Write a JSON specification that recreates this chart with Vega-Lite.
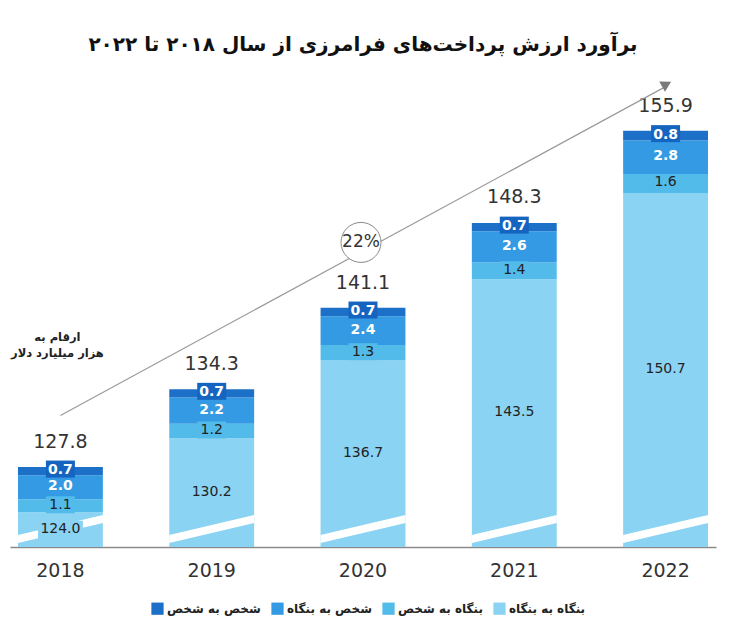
{
  "$schema": "https://vega.github.io/schema/vega-lite/v6.json",
  "autosize": {"type": "none"},
  "padding": {"left": 10, "top": 75, "right": 18, "bottom": 93},
  "width": 706,
  "height": 472,
  "background": "white",
  "title": {
    "text": "برآورد ارزش پرداخت‌های فرامرزی از سال ۲۰۱۸ تا ۲۰۲۲",
    "font": "DejaVu Sans",
    "fontSize": 20,
    "fontWeight": "bold",
    "color": "#111111",
    "anchor": "middle",
    "offset": 20
  },
  "config": {
    "view": {"stroke": null},
    "font": "DejaVu Sans"
  },
  "data": {
    "values": [
      {"year": "2018", "segment": "بنگاه به بنگاه", "value": 124.0},
      {"year": "2018", "segment": "بنگاه به شخص", "value": 1.1},
      {"year": "2018", "segment": "شخص به بنگاه", "value": 2.0},
      {"year": "2018", "segment": "شخص به شخص", "value": 0.7},
      {"year": "2019", "segment": "بنگاه به بنگاه", "value": 130.2},
      {"year": "2019", "segment": "بنگاه به شخص", "value": 1.2},
      {"year": "2019", "segment": "شخص به بنگاه", "value": 2.2},
      {"year": "2019", "segment": "شخص به شخص", "value": 0.7},
      {"year": "2020", "segment": "بنگاه به بنگاه", "value": 136.7},
      {"year": "2020", "segment": "بنگاه به شخص", "value": 1.3},
      {"year": "2020", "segment": "شخص به بنگاه", "value": 2.4},
      {"year": "2020", "segment": "شخص به شخص", "value": 0.7},
      {"year": "2021", "segment": "بنگاه به بنگاه", "value": 143.5},
      {"year": "2021", "segment": "بنگاه به شخص", "value": 1.4},
      {"year": "2021", "segment": "شخص به بنگاه", "value": 2.6},
      {"year": "2021", "segment": "شخص به شخص", "value": 0.7},
      {"year": "2022", "segment": "بنگاه به بنگاه", "value": 150.7},
      {"year": "2022", "segment": "بنگاه به شخص", "value": 1.6},
      {"year": "2022", "segment": "شخص به بنگاه", "value": 2.8},
      {"year": "2022", "segment": "شخص به شخص", "value": 0.8}
    ]
  },
  "transform": [
    {"stack": "value", "groupby": ["year"], "sort": [{"field": "segment", "order": "ascending"}], "as": ["y0", "y1"]},
    {"calculate": "(max(datum.y0, 121.1) + datum.y1) / 2", "as": "mid"}
  ],
  "encoding": {
    "x": {
      "field": "year",
      "type": "ordinal",
      "title": null,
      "scale": {"paddingInner": 0.439, "paddingOuter": 0.0528},
      "axis": {
        "labelAngle": 0,
        "labelFontSize": 19,
        "labelColor": "#333333",
        "labelPadding": 14,
        "ticks": false,
        "domainColor": "#8a8a8a",
        "domainWidth": 1.5,
        "grid": false
      }
    }
  },
  "layer": [
    {
      "mark": {"type": "bar", "clip": true},
      "encoding": {
        "y": {"field": "y1", "type": "quantitative", "scale": {"domain": [121.1, 160.57], "zero": false, "nice": false}, "axis": null},
        "y2": {"field": "y0"},
        "color": {
          "field": "segment",
          "type": "nominal",
          "scale": {
            "domain": ["شخص به شخص", "شخص به بنگاه", "بنگاه به شخص", "بنگاه به بنگاه"],
            "range": ["#1c70c8", "#339ae3", "#52bbea", "#8bd3f3"]
          },
          "legend": {
            "title": null,
            "orient": "none",
            "legendX": 141,
            "legendY": 527,
            "direction": "horizontal",
            "symbolType": "square",
            "symbolSize": 150,
            "symbolStrokeWidth": 0,
            "labelFontSize": 12,
            "labelFontWeight": "bold",
            "labelColor": "#222222",
            "labelOffset": 3,
            "columnPadding": 10
          }
        }
      }
    },
    {
      "transform": [{"filter": "datum.segment == 'بنگاه به بنگاه'"}],
      "mark": {"type": "point", "shape": "M-1,0.141L1,-0.329L1,-0.141L-1,0.329Z", "size": 7225, "filled": true, "fill": "white", "opacity": 1, "strokeWidth": 0},
      "encoding": {
        "y": {"datum": 122.6, "type": "quantitative", "scale": {"domain": [121.1, 160.57], "zero": false, "nice": false}, "axis": null}
      }
    },
    {
      "transform": [{"filter": "datum.segment == 'بنگاه به بنگاه'"}],
      "mark": {"type": "point", "shape": "M-1,-0.4H1V0.4H-1Z", "size": 2025, "filled": true, "fill": "#8bd3f3", "opacity": 1, "strokeWidth": 0},
      "encoding": {
        "y": {"field": "mid", "type": "quantitative", "scale": {"domain": [121.1, 160.57], "zero": false, "nice": false}, "axis": null}
      }
    },
    {
      "transform": [{"filter": "datum.segment == 'بنگاه به شخص'"}],
      "mark": {"type": "point", "shape": "M-1,-0.586H1V0.586H-1Z", "size": 841, "filled": true, "fill": "#52bbea", "opacity": 1, "strokeWidth": 0, "yOffset": -1},
      "encoding": {
        "y": {"field": "mid", "type": "quantitative", "scale": {"domain": [121.1, 160.57], "zero": false, "nice": false}, "axis": null}
      }
    },
    {
      "transform": [{"filter": "datum.segment == 'شخص به شخص'"}],
      "mark": {"type": "point", "shape": "M-1,-0.586H1V0.586H-1Z", "size": 841, "filled": true, "fill": "#1565c0", "opacity": 1, "strokeWidth": 0, "yOffset": -2},
      "encoding": {
        "y": {"field": "mid", "type": "quantitative", "scale": {"domain": [121.1, 160.57], "zero": false, "nice": false}, "axis": null}
      }
    },
    {
      "transform": [{"filter": "datum.segment == 'شخص به شخص' || datum.segment == 'شخص به بنگاه'"}],
      "mark": {"type": "text", "fontSize": 14, "fontWeight": "bold", "fill": "white", "baseline": "middle", "dy": -1},
      "encoding": {
        "y": {"field": "mid", "type": "quantitative", "scale": {"domain": [121.1, 160.57], "zero": false, "nice": false}, "axis": null},
        "text": {"field": "value", "type": "quantitative", "format": ".1f"}
      }
    },
    {
      "transform": [{"filter": "datum.segment == 'بنگاه به شخص' || datum.segment == 'بنگاه به بنگاه'"}],
      "mark": {"type": "text", "fontSize": 14, "fill": "#222222", "baseline": "middle", "dy": -1},
      "encoding": {
        "y": {"field": "mid", "type": "quantitative", "scale": {"domain": [121.1, 160.57], "zero": false, "nice": false}, "axis": null},
        "text": {"field": "value", "type": "quantitative", "format": ".1f"}
      }
    },
    {
      "data": {"values": [
        {"year": "2018", "total": 127.8},
        {"year": "2019", "total": 134.3},
        {"year": "2020", "total": 141.1},
        {"year": "2021", "total": 148.3},
        {"year": "2022", "total": 155.9}
      ]},
      "mark": {"type": "text", "fontSize": 19, "fill": "#333333", "baseline": "middle", "dy": -25},
      "encoding": {
        "y": {"field": "total", "type": "quantitative", "scale": {"domain": [121.1, 160.57], "zero": false, "nice": false}, "axis": null},
        "text": {"field": "total", "type": "quantitative", "format": ".1f"}
      }
    },
    {
      "data": {"values": [
        {"year": "2018", "v": 132.1},
        {"year": "2022", "v": 159.6}
      ]},
      "mark": {"type": "line", "stroke": "#9a9a9a", "strokeWidth": 1.2},
      "encoding": {
        "y": {"field": "v", "type": "quantitative", "scale": {"domain": [121.1, 160.57], "zero": false, "nice": false}, "axis": null}
      }
    },
    {
      "data": {"values": [{"year": "2022", "v": 159.8}]},
      "mark": {"type": "point", "shape": "triangle-up", "angle": 61, "size": 140, "filled": true, "fill": "#7a7a7a", "opacity": 1, "strokeWidth": 0, "xOffset": 1},
      "encoding": {
        "y": {"field": "v", "type": "quantitative", "scale": {"domain": [121.1, 160.57], "zero": false, "nice": false}, "axis": null}
      }
    },
    {
      "data": {"values": [{"year": "2020", "v": 146.57, "label": "22%"}]},
      "mark": {"type": "point", "shape": "circle", "size": 1600, "filled": false, "fill": "white", "fillOpacity": 1, "stroke": "#8a8a8a", "strokeWidth": 1, "opacity": 1, "xOffset": -2},
      "encoding": {
        "y": {"field": "v", "type": "quantitative", "scale": {"domain": [121.1, 160.57], "zero": false, "nice": false}, "axis": null}
      }
    },
    {
      "data": {"values": [{"year": "2020", "v": 146.57, "label": "22%"}]},
      "mark": {"type": "text", "fontSize": 17, "fill": "#333333", "baseline": "middle", "dx": -2},
      "encoding": {
        "y": {"field": "v", "type": "quantitative", "scale": {"domain": [121.1, 160.57], "zero": false, "nice": false}, "axis": null},
        "text": {"field": "label", "type": "nominal"}
      }
    },
    {
      "data": {"values": [{"year": "2018", "v": 138.6}]},
      "mark": {"type": "text", "fontSize": 11.5, "fontWeight": "bold", "fill": "#222222", "baseline": "middle", "lineHeight": 16, "dx": -3},
      "encoding": {
        "y": {"field": "v", "type": "quantitative", "scale": {"domain": [121.1, 160.57], "zero": false, "nice": false}, "axis": null},
        "text": {"value": ["ارقام به", "هزار میلیارد دلار"]}
      }
    }
  ]
}
